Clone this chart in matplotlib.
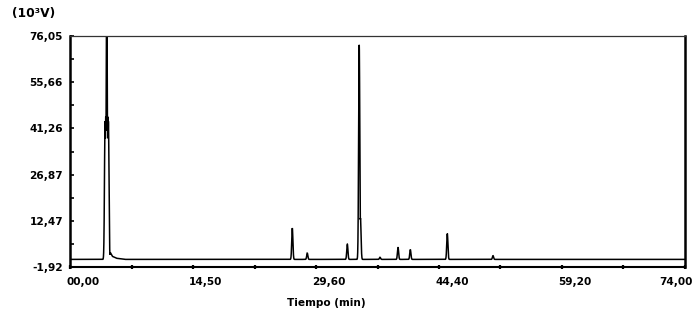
import numpy as np
import matplotlib
matplotlib.use("Agg")
import matplotlib.pyplot as plt
from matplotlib.transforms import ScaledTranslation

# ---- data ----
peak_times = [4.22, 4.30, 4.38, 4.42, 4.46, 4.54, 4.62,
              26.75, 28.55, 33.37, 34.80, 34.95, 37.30, 39.47, 40.95, 45.40, 50.90]
peak_heights = [43.5, 44.9, 44.9, 85.0, 44.9, 44.9, 43.5,
                10.2, 2.4, 5.2, 67.3, 13.3, 1.1, 4.2, 3.5, 8.5, 1.6]
tail_times = [4.85, 5.1, 5.6, 6.6]
tail_values = [2.6, 1.4, 0.8, 0.45]
baseline = 0.45

x_major = [0.0, 14.8, 29.6, 44.4, 59.2, 74.0]
x_labels = ["00,00", "14,50", "29,60", "44,40", "59,20", "74,00"]
y_major = [-1.92, 12.47, 26.87, 41.26, 55.66, 70.06]
y_labels = ["-1,92", "12,47", "26,87", "41,26", "55,66", "76,05"]

# ---- build the trace ----
t = np.arange(0.0, 74.0, 0.004)
sig = np.full(t.shape, baseline)
for pt, ph in zip(peak_times, peak_heights):
    sig = np.maximum(sig, baseline + (ph - baseline) * np.exp(-0.5 * ((t - pt) / 0.07) ** 2))
tail = np.interp(t, [4.7] + tail_times, [baseline] + tail_values,
                 left=baseline, right=baseline) - baseline
tail[t < 4.7] = 0
sig = np.maximum(sig, baseline + tail)

fig = plt.figure(figsize=(7.0, 3.14), dpi=100)
ax = fig.add_axes([70 / 700, 1 - 267 / 314, 615 / 700, 231 / 314])
ax.plot(t, sig, color="black", lw=1.1, solid_joinstyle="miter")
ax.set_xlim(0, 74)
ax.set_ylim(-1.92, 70.06)

ax.spines["left"].set_linewidth(1.8)
ax.spines["bottom"].set_linewidth(1.5)
ax.spines["top"].set_linewidth(0.9)
ax.spines["top"].set_color("#333333")
ax.spines["right"].set_linewidth(1.8)

fp = dict(family="DejaVu Sans", weight="bold", size=7.6)

ax.set_yticks(y_major)
ax.set_yticklabels(y_labels, **fp)
ax.set_yticks([(a + b) / 2 for a, b in zip(y_major[:-1], y_major[1:])], minor=True)
ax.tick_params(axis="y", which="both", direction="in", length=3, width=1.2, pad=5)

ax.set_xticks(x_major)
ax.set_xticklabels(x_labels, **fp)
ax.set_xticks([(a + b) / 2 for a, b in zip(x_major[:-1], x_major[1:])], minor=True)
ax.tick_params(axis="x", which="both", direction="inout", length=2.5, width=1.6, pad=6)

for i, lab in enumerate(ax.get_xticklabels()):
    dx = 13 / 100 if i < len(x_labels) - 1 else -9 / 100
    lab.set_transform(lab.get_transform() + ScaledTranslation(dx, 0, fig.dpi_scale_trans))

ax.set_xlabel("Tiempo (min)", **fp)
ax.xaxis.set_label_coords((326 - 70) / 615, -31 / 231)

fig.text(12 / 700, 1 - 13 / 314, "(10³V)", ha="left", va="center",
         family="DejaVu Sans", weight="bold", size=8.8)

fig.savefig("out.png", dpi=100)
